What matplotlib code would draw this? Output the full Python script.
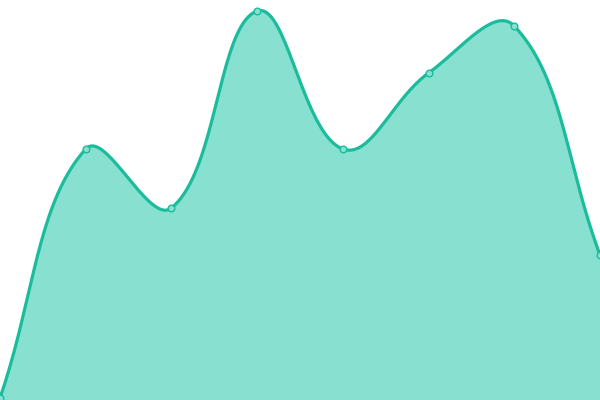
import matplotlib
matplotlib.use('Agg')
import matplotlib.pyplot as plt
import numpy as np

# values (0 at the bottom edge, 400 at the top)
labels = ['1', '2', '3', '4', '5', '6', '7', '8']
values = [2, 251, 192, 389, 251, 327, 374, 145]

line_color = '#1abc9c'
fill_color = '#88e0d0'

fig = plt.figure(figsize=(6, 4), dpi=100)
ax = fig.add_axes([0, 0, 1, 1])
ax.set_xlim(0, len(values) - 1)
ax.set_ylim(0, 400)
ax.axis('off')

x = np.arange(len(values))
pts = ax.transData.transform(np.column_stack([x, values]))

"""
spline like chart.js (tension 0.4), done in pixel space
"""
def spline_path(p, tension=0.4, steps=40):
    n = len(p)
    cp_prev = p.copy()
    cp_next = p.copy()
    for i in range(n):
        p0 = p[i - 1] if i > 0 else p[i]
        p1 = p[i]
        p2 = p[i + 1] if i < n - 1 else p[i]
        d01 = np.hypot(*(p1 - p0))
        d12 = np.hypot(*(p2 - p1))
        tot = d01 + d12
        s01 = d01 / tot if tot else 0
        s12 = d12 / tot if tot else 0
        cp_prev[i] = p1 - tension * s01 * (p2 - p0)
        cp_next[i] = p1 + tension * s12 * (p2 - p0)
    t = np.linspace(0, 1, steps)[:, None]
    out = []
    for i in range(n - 1):
        a, b, c, d = p[i], cp_next[i], cp_prev[i + 1], p[i + 1]
        seg = (1 - t) ** 3 * a + 3 * (1 - t) ** 2 * t * b + 3 * (1 - t) * t ** 2 * c + t ** 3 * d
        out.append(seg if i == 0 else seg[1:])
    return np.vstack(out)

curve = ax.transData.inverted().transform(spline_path(pts))

ax.fill_between(curve[:, 0], curve[:, 1], 0, color=fill_color, lw=0)
ax.plot(curve[:, 0], curve[:, 1], color=line_color, lw=2.3, solid_capstyle='round')
ax.plot(x, values, 'o', ms=4.8, mfc=fill_color, mec=line_color, mew=1.0, clip_on=False)

fig.savefig('out.png', dpi=100)
